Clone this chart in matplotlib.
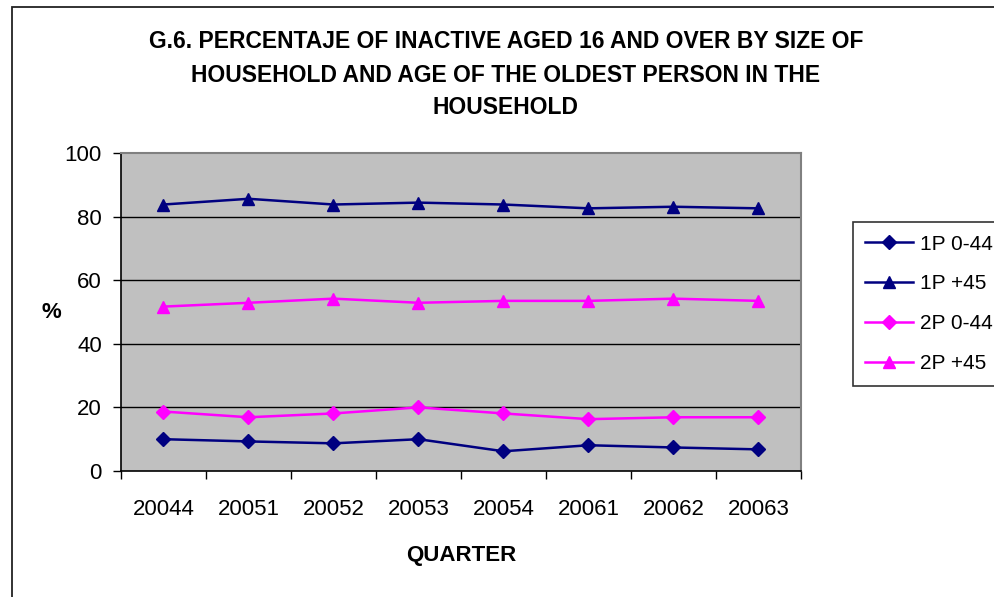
import matplotlib
matplotlib.use("Agg")
import matplotlib.pyplot as plt
from matplotlib.patches import Rectangle

plt.rcParams['font.family'] = ['Liberation Sans', 'DejaVu Sans']

quarters = ["20044", "20051", "20052", "20053", "20054", "20061", "20062", "20063"]
p1_0_44 = [10.0, 9.3, 8.7, 10.0, 6.2, 8.1, 7.4, 6.8]
p1_45 = [83.8, 85.6, 83.8, 84.4, 83.8, 82.6, 83.1, 82.6]
p2_0_44 = [18.7, 16.9, 18.1, 20.0, 18.1, 16.3, 16.9, 16.9]
p2_45 = [51.7, 52.9, 54.2, 52.9, 53.5, 53.5, 54.2, 53.5]
y_ticks = [0, 20, 40, 60, 80, 100]

NAVY = "#000080"
MAGENTA = "#FF00FF"
W, H = 995, 597

fig = plt.figure(figsize=(W / 100, H / 100), dpi=100)
fig.patch.set_facecolor("white")

# chart-area border
fig.patches.append(Rectangle((12 / W, -0.01), 1.1, 1 - 7 / H + 0.01,
                             transform=fig.transFigure, fill=False,
                             edgecolor="#222222", linewidth=1.3))

ax = fig.add_axes([121 / W, 1 - 471 / H, (801 - 121) / W, (471 - 153) / H])
ax.set_facecolor("#C0C0C0")

x = list(range(len(quarters)))
series = [
    (p1_0_44, NAVY, "D", 7, "1P 0-44"),
    (p1_45, NAVY, "^", 9, "1P +45"),
    (p2_0_44, MAGENTA, "D", 7, "2P 0-44"),
    (p2_45, MAGENTA, "^", 9, "2P +45"),
]
handles = []
for vals, col, mk, ms, lab in series:
    ln, = ax.plot(x, vals, color=col, marker=mk, markersize=ms, linewidth=1.8,
                  markeredgecolor=col, markerfacecolor=col, label=lab, zorder=3)
    handles.append(ln)

ax.set_xlim(-0.5, len(quarters) - 0.5)
ax.set_ylim(0, 100)
ax.set_yticks(y_ticks)
ax.set_yticklabels([str(v) for v in y_ticks], fontsize=16)
ax.set_xticks(x)
ax.set_xticklabels(quarters, fontsize=16)
ax.set_xticks([i - 0.5 for i in range(len(quarters) + 1)], minor=True)
ax.tick_params(axis="x", which="major", length=0, pad=20)
ax.tick_params(axis="x", which="minor", length=5.8, width=1, color="black", direction="out")
ax.tick_params(axis="y", which="major", length=5.8, width=1, color="black", direction="out", pad=8)

for yv in y_ticks[1:-1]:
    ax.axhline(yv, color="black", linewidth=1, zorder=1)

for s in ("top", "right"):
    ax.spines[s].set_color("#808080")
    ax.spines[s].set_linewidth(1.5)
for s in ("left", "bottom"):
    ax.spines[s].set_color("black")
    ax.spines[s].set_linewidth(1.2)

# title, three centred lines
title_lines = [
    ("G.6. PERCENTAJE OF INACTIVE AGED 16 AND OVER BY SIZE OF", 42),
    ("HOUSEHOLD AND AGE OF THE OLDEST PERSON IN THE", 76),
    ("HOUSEHOLD", 108),
]
for txt, cy in title_lines:
    fig.text(506 / W, 1 - cy / H, txt, ha="center", va="center",
             fontsize=16.5, fontweight="bold")

fig.text(51 / W, 1 - 312 / H, "%", ha="center", va="center", fontsize=16, fontweight="bold")
fig.text(461 / W, 1 - 555 / H, "QUARTER", ha="center", va="center", fontsize=16, fontweight="bold")

leg = fig.legend(handles=handles, loc="upper left",
                 bbox_to_anchor=(853 / W, 1 - 222 / H), fontsize=15,
                 frameon=True, fancybox=False, edgecolor="black",
                 borderaxespad=0, handlelength=2.3, handletextpad=0.3,
                 labelspacing=1.0, borderpad=0.6)
leg.get_frame().set_linewidth(1.2)

fig.savefig("out.png", dpi=100)
